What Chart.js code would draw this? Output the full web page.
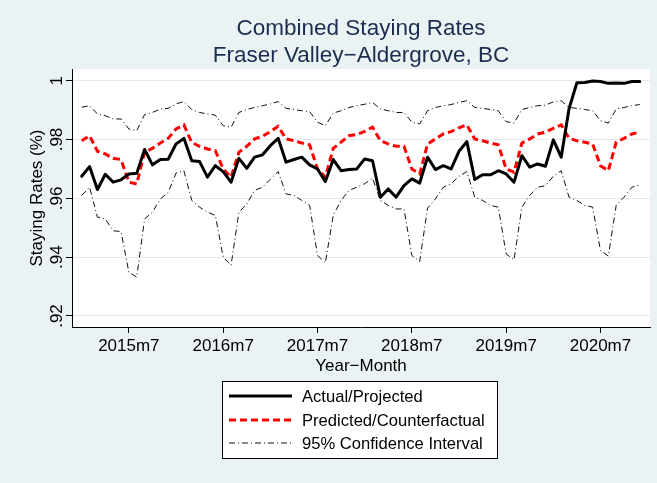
<!DOCTYPE html>
<html><head><meta charset="utf-8">
<script src="https://cdn.jsdelivr.net/npm/chart.js@4/dist/chart.umd.min.js"></script>
<style>html,body{margin:0;padding:0;background:#eaf2f3;}canvas{display:block;}</style>
</head><body>
<canvas id="c" width="657" height="483"></canvas>
<script>
// Categories: monthly, 2015m1 .. 2020m12
const months = [];
for (let yr = 2015; yr <= 2020; yr++) for (let mo = 1; mo <= 12; mo++) months.push(yr + 'm' + mo);

const actual = [
 .9675,.9708,.9630,.9682,.9655,.9663,.9683,.9685,.9766,.9714,.9732,.9733,
 .9785,.9804,.9728,.9725,.9672,.9711,.9691,.9655,.9736,.9702,.9740,.9748,
 .9779,.9804,.9723,.9732,.9740,.9714,.9700,.9657,.9732,.9694,.9698,.9700,
 .9734,.9728,.9604,.9632,.9604,.9643,.9666,.9652,.9740,.9698,.9711,.9700,
 .9760,.9793,.9664,.9680,.9680,.9694,.9683,.9655,.9745,.9706,.9717,.9709,
 .9799,.9740,.9905,.9993,.9994,.9999,.9997,.9991,.9992,.9991,.9997,.9997
];
const predicted = [
 .9796,.9813,.9760,.9751,.9736,.9732,.9655,.9649,.9757,.9770,.9788,.9804,
 .9836,.9850,.9790,.9777,.9768,.9762,.9700,.9672,.9757,.9777,.9802,.9811,
 .9827,.9845,.9802,.9796,.9788,.9782,.9700,.9672,.9770,.9791,.9813,.9817,
 .9828,.9842,.9796,.9785,.9777,.9777,.9700,.9683,.9785,.9802,.9819,.9827,
 .9840,.9850,.9802,.9796,.9788,.9782,.9700,.9689,.9788,.9802,.9819,.9825,
 .9838,.9850,.9804,.9796,.9791,.9785,.9711,.9694,.9791,.9804,.9819,.9825
];
const upperCI = [
 .9910,.9915,.9887,.9881,.9870,.9870,.9836,.9830,.9885,.9892,.9904,.9906,
 .9921,.9929,.9902,.9892,.9887,.9883,.9847,.9842,.9892,.9902,.9909,.9915,
 .9921,.9929,.9906,.9902,.9898,.9895,.9859,.9847,.9890,.9898,.9909,.9915,
 .9920,.9926,.9904,.9898,.9892,.9892,.9859,.9853,.9898,.9909,.9915,.9919,
 .9926,.9932,.9909,.9906,.9902,.9898,.9861,.9856,.9902,.9909,.9915,.9917,
 .9928,.9932,.9909,.9906,.9902,.9898,.9864,.9856,.9904,.9909,.9915,.9919
];
const lowerCI = [
 .9610,.9638,.9536,.9530,.9490,.9487,.9349,.9332,.9530,.9553,.9598,.9620,
 .9686,.9694,.9593,.9570,.9553,.9542,.9400,.9372,.9553,.9581,.9627,.9638,
 .9665,.9691,.9615,.9610,.9593,.9576,.9406,.9381,.9542,.9593,.9627,.9638,
 .9650,.9668,.9593,.9576,.9564,.9564,.9406,.9385,.9567,.9598,.9638,.9650,
 .9675,.9691,.9604,.9593,.9576,.9570,.9411,.9391,.9570,.9610,.9638,.9643,
 .9675,.9694,.9604,.9593,.9576,.9570,.9423,.9404,.9576,.9604,.9638,.9646
];
const xTickLabels = ['2015m7','2016m7','2017m7','2018m7','2019m7','2020m7'];
const yTickValues = [.92,.94,.96,.98,1];
const yTickLabels = ['.92','.94','.96','.98','1'];
const titleLines = ['Combined Staying Rates','Fraser Valley\u2212Aldergrove, BC'];
const xTitle = 'Year\u2212Month';
const yTitle = 'Staying Rates (%)';
const legendLabels = ['Actual/Projected','Predicted/Counterfactual','95% Confidence Interval'];

const FONT = '"Liberation Sans", Arial, Helvetica, sans-serif';
const toXY = arr => arr.map((v, i) => ({x: i, y: v}));

const bgPlugin = {
  id: 'bg',
  beforeDraw(chart) {
    const {ctx, chartArea: a} = chart;
    ctx.save();
    ctx.fillStyle = '#eaf2f3';
    ctx.fillRect(0, 0, chart.width, chart.height);
    ctx.fillStyle = '#ffffff';
    ctx.fillRect(a.left, a.top, a.right - a.left, a.bottom - a.top);
    ctx.restore();
  }
};

const textPlugin = {
  id: 'texts',
  afterDraw(chart) {
    const {ctx, chartArea: a} = chart;
    const ys = chart.scales.y;
    const cx = (a.left + a.right) / 2;
    ctx.save();
    // title
    ctx.fillStyle = '#1c2d4f';
    ctx.font = '22.5px ' + FONT;
    ctx.textAlign = 'center';
    ctx.textBaseline = 'alphabetic';
    ctx.fillText(titleLines[0], cx, 35);
    ctx.fillText(titleLines[1], cx, 62);
    // x title
    ctx.fillStyle = '#000';
    ctx.font = '17px ' + FONT;
    ctx.fillText(xTitle, cx, 371);
    // y tick labels (vertical)
    yTickValues.forEach((v, i) => {
      const y = ys.getPixelForValue(v);
      ctx.save();
      ctx.translate(62, y);
      ctx.rotate(-Math.PI / 2);
      ctx.textAlign = 'center';
      ctx.fillText(yTickLabels[i], 0, 0);
      ctx.restore();
    });
    // y title
    ctx.save();
    ctx.translate(42, (a.top + a.bottom) / 2);
    ctx.rotate(-Math.PI / 2);
    ctx.textAlign = 'center';
    ctx.fillText(yTitle, 0, 0);
    ctx.restore();
    // legend
    const bx = 222.5, by = 381.5, bw = 275, bh = 77;
    ctx.fillStyle = '#fff';
    ctx.fillRect(bx, by, bw, bh);
    ctx.strokeStyle = '#000';
    ctx.lineWidth = 1;
    ctx.strokeRect(bx, by, bw, bh);
    const rows = [396, 420, 443];
    const ds = chart.data.datasets;
    for (let i = 0; i < 3; i++) {
      const d = ds[i];
      ctx.save();
      ctx.strokeStyle = d.borderColor;
      ctx.lineWidth = d.borderWidth;
      ctx.setLineDash(d.borderDash || []);
      ctx.beginPath();
      ctx.moveTo(229, rows[i]);
      ctx.lineTo(292, rows[i]);
      ctx.stroke();
      ctx.restore();
      ctx.fillStyle = '#000';
      ctx.font = '16.6px ' + FONT;
      ctx.textAlign = 'left';
      ctx.textBaseline = 'middle';
      ctx.fillText(legendLabels[i], 302, rows[i] + 1);
    }
    ctx.restore();
  }
};

new Chart(document.getElementById('c'), {
  type: 'line',
  data: {
    datasets: [
      {label: legendLabels[0], data: toXY(actual), borderColor: '#000000', borderWidth: 3, pointRadius: 0, tension: 0, borderJoinStyle: 'round', borderCapStyle: 'round'},
      {label: legendLabels[1], data: toXY(predicted), borderColor: '#ff0000', borderWidth: 3, borderDash: [7, 4], pointRadius: 0, tension: 0},
      {label: legendLabels[2], data: toXY(upperCI), borderColor: '#111111', borderWidth: 1, borderDash: [6, 3, 1, 3], pointRadius: 0, tension: 0},
      {label: '95% CI lower', data: toXY(lowerCI), borderColor: '#111111', borderWidth: 1, borderDash: [6, 3, 1, 3], pointRadius: 0, tension: 0}
    ]
  },
  options: {
    responsive: false,
    animation: false,
    devicePixelRatio: 1,
    layout: {padding: {top: 69, right: 7, bottom: 0, left: 0}},
    plugins: {legend: {display: false}, title: {display: false}, tooltip: {enabled: false}},
    scales: {
      x: {
        type: 'linear', min: -1.234, max: 72.3,
        afterBuildTicks: s => { s.ticks = xTickLabels.map(l => ({value: months.indexOf(l)})); },
        afterFit: s => { s.height = 156; },
        grid: {drawOnChartArea: false, tickLength: 6, tickColor: '#000', tickWidth: 1},
        border: {color: '#000', width: 1},
        ticks: {callback: v => months[v], font: {family: FONT, size: 17}, color: '#000', padding: 3, maxRotation: 0, autoSkip: false}
      },
      y: {
        min: 0.91626, max: 1.00398,
        afterBuildTicks: s => { s.ticks = yTickValues.map(v => ({value: v})); },
        afterFit: s => { s.width = 72; },
        grid: {color: '#e1eaed', lineWidth: 1, tickLength: 6, tickColor: '#000', tickWidth: 1},
        border: {color: '#000', width: 1},
        ticks: {display: false}
      }
    }
  },
  plugins: [bgPlugin, textPlugin]
});
</script>
</body></html>
